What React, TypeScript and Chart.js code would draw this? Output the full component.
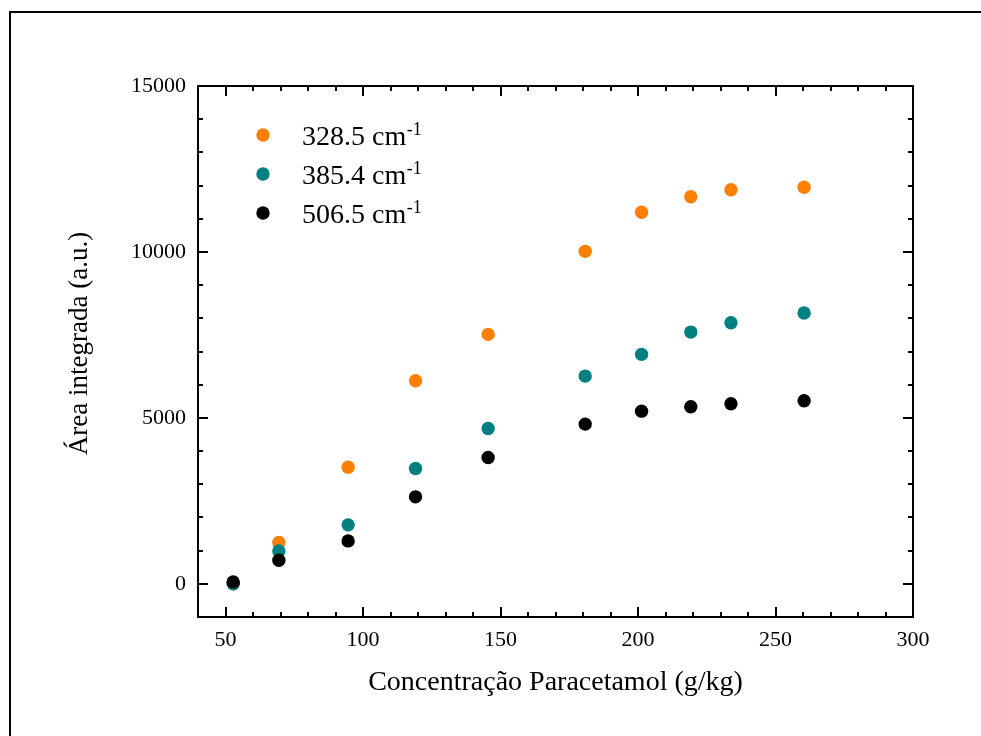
import React, { useEffect, useRef } from 'react';
import { Chart, registerables } from 'chart.js';

Chart.register(...registerables);

const concentrations = [52.8, 69.4, 94.6, 119.1, 145.5, 180.8, 201.3, 219.2, 233.8, 260.4];
const area328 = [0, 1245, 3515, 6117, 7516, 10018, 11197, 11664, 11875, 11947];
const area385 = [0, 992, 1776, 3476, 4682, 6259, 6913, 7585, 7866, 8158];
const area506 = [57, 711, 1293, 2620, 3808, 4812, 5203, 5333, 5424, 5514];

const seriesNames = ['328.5 cm', '385.4 cm', '506.5 cm'];
const seriesSup = '-1';
const seriesColors = ['#FF8000', '#008080', '#000000'];

const xTickValues = [50, 100, 150, 200, 250, 300];
const yTickValues = [0, 5000, 10000, 15000];
const xMinorStep = 10;
const yMinorStep = 1000;

const xTitle = 'Concentração Paracetamol (g/kg)';
const yTitle = 'Área integrada (a.u.)';

const FONT = '"Liberation Serif", "Times New Roman", serif';

const framePlugin = {
  id: 'framePlugin',
  beforeDraw(chart: any) {
    const ctx = chart.ctx;
    ctx.save();
    ctx.fillStyle = '#ffffff';
    ctx.fillRect(0, 0, chart.width, chart.height);
    ctx.strokeStyle = '#000';
    ctx.lineWidth = 2;
    ctx.beginPath();
    ctx.moveTo(10, chart.height);
    ctx.lineTo(10, 12);
    ctx.lineTo(chart.width, 12);
    ctx.stroke();
    ctx.restore();
  },
  afterDraw(chart: any) {
    const { ctx, chartArea: a, scales } = chart;
    const x = scales.x;
    const y = scales.y;
    ctx.save();
    ctx.strokeStyle = '#000';
    ctx.lineWidth = 2;
    ctx.lineCap = 'butt';
    const seg = (x1: number, y1: number, x2: number, y2: number) => {
      ctx.beginPath();
      ctx.moveTo(x1, y1);
      ctx.lineTo(x2, y2);
      ctx.stroke();
    };
    for (let v = Math.ceil(x.min / xMinorStep) * xMinorStep; v <= x.max; v += xMinorStep) {
      const px = Math.round(x.getPixelForValue(v));
      if (px <= a.left + 1 || px >= a.right - 1) continue;
      const len = xTickValues.includes(v) ? 10 : 5;
      seg(px, a.bottom, px, a.bottom - len);
      seg(px, a.top, px, a.top + len);
    }
    for (let v = Math.ceil(y.min / yMinorStep) * yMinorStep; v <= y.max; v += yMinorStep) {
      const py = Math.round(y.getPixelForValue(v));
      if (py <= a.top + 1 || py >= a.bottom - 1) continue;
      const len = yTickValues.includes(v) ? 10 : 5;
      seg(a.left, py, a.left + len, py);
      seg(a.right, py, a.right - len, py);
    }
    ctx.strokeRect(a.left, a.top, a.right - a.left, a.bottom - a.top);

    // y axis title
    ctx.save();
    ctx.translate(80, (a.top + a.bottom) / 2 - 8);
    ctx.rotate(-Math.PI / 2);
    ctx.font = `27px ${FONT}`;
    ctx.fillStyle = '#000';
    ctx.textAlign = 'center';
    ctx.textBaseline = 'middle';
    ctx.fillText(yTitle, 0, 0);
    ctx.restore();

    // legend
    chart.data.datasets.forEach((ds: any, i: number) => {
      const cy = a.top + 49 + i * 39;
      const mx = a.left + 65;
      ctx.beginPath();
      ctx.fillStyle = ds.backgroundColor;
      ctx.arc(mx, cy, 6.7, 0, Math.PI * 2);
      ctx.fill();
      ctx.fillStyle = '#000';
      ctx.textAlign = 'left';
      ctx.textBaseline = 'alphabetic';
      ctx.font = `28px ${FONT}`;
      const tx = a.left + 104;
      const base = cy + 10;
      ctx.fillText(ds.label, tx, base);
      const w = ctx.measureText(ds.label).width;
      ctx.font = `18px ${FONT}`;
      ctx.fillText(seriesSup, tx + w + 0.5, base - 10);
    });
    ctx.restore();
  },
};

export default function App() {
  const canvasRef = useRef<HTMLCanvasElement | null>(null);

  useEffect(() => {
    if (!canvasRef.current) return;
    const seriesValues = [area328, area385, area506];
    const chart = new Chart(canvasRef.current, {
      type: 'scatter',
      data: {
        datasets: seriesValues.map((vals, i) => ({
          label: seriesNames[i],
          data: concentrations.map((c, j) => ({ x: c, y: vals[j] })),
          backgroundColor: seriesColors[i],
          borderColor: seriesColors[i],
          borderWidth: 0,
          pointRadius: 6.7,
          pointHoverRadius: 6.7,
          showLine: false,
          order: 3 - i,
        })),
      },
      options: {
        responsive: false,
        animation: false,
        devicePixelRatio: 1,
        layout: { padding: { left: 0, top: 86, right: 68, bottom: 0 } },
        plugins: {
          legend: { display: false },
          tooltip: { enabled: false },
        },
        scales: {
          x: {
            type: 'linear',
            min: 40,
            max: 300,
            grid: { display: false, drawTicks: false },
            border: { display: false },
            afterBuildTicks: (scale: any) => {
              scale.ticks = xTickValues.map((v) => ({ value: v }));
            },
            afterFit: (scale: any) => {
              scale.height = 119;
            },
            ticks: {
              padding: 10,
              color: '#000',
              maxRotation: 0,
              autoSkip: false,
              font: { family: FONT, size: 22 },
              callback: (v: any) => String(v),
            },
            title: {
              display: true,
              text: xTitle,
              color: '#000',
              font: { family: FONT, size: 28 },
              padding: { top: 0, bottom: 36.7 },
            },
          },
          y: {
            type: 'linear',
            min: -1000,
            max: 15000,
            grid: { display: false, drawTicks: false },
            border: { display: false },
            afterBuildTicks: (scale: any) => {
              scale.ticks = yTickValues.map((v) => ({ value: v }));
            },
            afterFit: (scale: any) => {
              scale.width = 198;
            },
            ticks: {
              padding: 12,
              color: '#000',
              autoSkip: false,
              font: { family: FONT, size: 22 },
              callback: (v: any) => String(v),
            },
            title: { display: false },
          },
        },
      },
      plugins: [framePlugin],
    });
    return () => chart.destroy();
  }, []);

  return (
    <div style={{ position: 'fixed', left: 0, top: 0, width: 981, height: 736, background: '#fff' }}>
      <canvas ref={canvasRef} width={981} height={736} style={{ display: 'block' }} />
    </div>
  );
}
